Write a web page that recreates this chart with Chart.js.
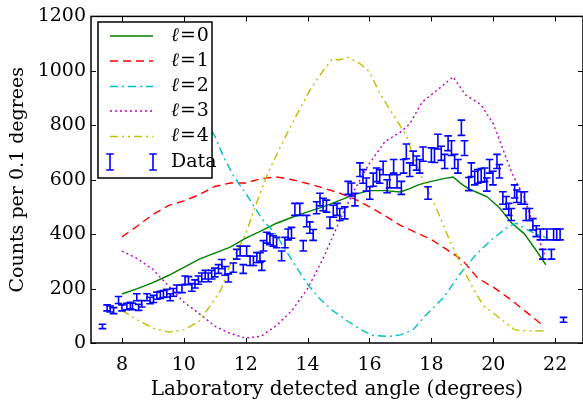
<!DOCTYPE html>
<html>
<head>
<meta charset="utf-8">
<script src="https://cdn.jsdelivr.net/npm/chart.js@4.4.1/dist/chart.umd.min.js"></script>
<style>
html, body { margin: 0; padding: 0; background: #fff; overflow: hidden; }
</style>
</head>
<body>
<canvas id="angleChart" width="583" height="402"></canvas>
<script>
// measured counts with their error bars
var dataX = [7.37,7.52,7.62,7.73,7.89,8.00,8.16,8.27,8.34,8.48,
  8.54,8.64,8.81,8.91,9.02,9.13,9.24,9.34,9.45,9.56,
  9.66,9.77,9.94,10.04,10.15,10.26,10.36,10.47,10.58,10.69,
  10.79,10.90,11.00,11.12,11.23,11.33,11.44,11.60,11.71,11.82,
  11.92,12.03,12.14,12.25,12.36,12.46,12.52,12.57,12.68,12.78,
  12.89,13.00,13.16,13.27,13.37,13.48,13.59,13.75,13.86,13.97,
  14.07,14.18,14.29,14.40,14.50,14.61,14.72,14.83,14.95,15.04,
  15.20,15.31,15.42,15.53,15.69,15.79,15.90,16.01,16.12,16.23,
  16.33,16.44,16.57,16.65,16.78,16.89,17.03,17.10,17.19,17.30,
  17.41,17.52,17.62,17.73,17.89,18.00,18.10,18.21,18.32,18.43,
  18.54,18.65,18.75,18.86,18.97,19.07,19.21,19.29,19.40,19.50,
  19.61,19.72,19.79,19.88,19.99,20.12,20.20,20.31,20.42,20.50,
  20.58,20.69,20.76,20.90,21.01,21.06,21.17,21.28,21.39,21.52,
  21.60,21.73,21.88,21.95,22.05,22.16,22.27];
var dataY = [61,129,125,119,158,129,134,138,134,168,
  131,144,168,156,162,174,177,180,183,168,
  186,199,199,231,229,204,217,231,241,251,
  241,251,259,272,290,265,239,277,326,338,
  272,338,302,302,314,314,284,357,387,381,
  375,369,320,369,399,405,491,491,357,448,
  424,397,497,527,509,503,442,484,491,472,
  478,570,564,527,637,612,582,551,600,618,
  612,643,576,594,649,594,570,649,704,637,
  679,661,649,694,551,691,689,740,697,667,
  734,716,667,649,791,716,584,637,606,612,
  616,618,582,649,606,667,631,533,515,491,
  472,557,539,533,533,472,472,436,411,399,
  326,399,326,399,399,399,85];
var dataErr = [8,11,11,11,13,11,12,12,12,13,
  11,12,13,12,13,13,13,13,14,13,
  14,14,14,15,15,14,15,15,16,16,
  16,16,16,16,17,16,15,17,18,18,
  16,18,17,17,18,18,17,19,20,20,
  19,19,18,19,20,20,22,22,19,21,
  21,20,22,23,23,22,21,22,22,22,
  22,24,24,23,25,25,24,23,24,25,
  25,25,24,24,25,24,24,25,27,25,
  26,26,25,26,23,26,26,27,26,26,
  27,27,26,25,28,27,24,25,25,25,
  25,25,24,25,25,26,25,23,23,22,
  22,24,23,23,23,22,22,21,20,20,
  18,20,18,20,20,20,9];

// model curves, one per l
var l0X = [8.0,8.5,9.0,9.5,10.0,10.5,11.0,11.5,12.0,12.5,13.0,13.5,14.0,14.5,15.0,15.5,16.0,16.5,17.0,17.3,17.6,18.0,18.4,18.7,19.0,19.2,19.5,19.8,20.2,20.6,21.0,21.4,21.7];
var l0Y = [180,200,222,248,278,308,330,352,385,412,440,462,482,500,522,545,560,560,555,567,582,594,604,610,582,567,552,537,497,440,402,338,287];
var l1X = [8.0,8.5,9.0,9.5,10.0,10.5,11.0,11.5,12.0,12.5,13.0,13.5,14.0,14.5,15.0,15.5,16.0,16.5,17.0,17.5,18.0,18.5,19.0,19.5,20.0,20.5,21.0,21.6];
var l1Y = [390,430,472,505,522,545,575,588,588,604,610,600,586,570,552,530,500,468,432,406,380,343,305,238,205,165,120,65];
var l2X = [8.0,8.5,9.0,9.5,10.0,10.5,11.0,11.3,11.6,12.0,12.5,13.0,13.3,13.6,14.0,14.4,14.8,15.3,15.7,16.1,16.6,17.0,17.4,17.8,18.4,18.9,19.45,20.0,20.5,20.75,21.06,21.4,21.7];
var l2Y = [1180,1150,1100,1030,950,860,760,680,615,550,460,395,340,285,215,162,120,80,50,28,24,30,48,100,168,250,326,385,428,440,418,400,387];
var l3X = [8.0,8.5,9.0,9.5,10.0,10.5,11.0,11.5,12.0,12.5,13.0,13.5,14.0,14.5,15.0,15.5,16.0,16.5,17.0,17.3,17.7,18.2,18.7,19.1,19.6,20.0,20.3,20.6,21.0,21.3,21.66];
var l3Y = [338,310,270,210,150,108,62,35,18,25,65,120,200,310,440,560,660,740,775,805,885,930,978,912,876,805,716,625,535,430,326];
var l4X = [8.0,8.5,9.0,9.5,10.0,10.5,10.9,11.2,11.5,12.0,12.3,12.7,13.2,13.7,14.1,14.5,14.8,15.0,15.3,15.7,16.0,16.3,16.7,17.2,17.4,17.7,18.2,18.6,19.0,19.45,19.7,20.0,20.3,20.7,21.0,21.66];
var l4Y = [120,85,55,40,48,80,145,195,290,400,500,620,740,850,934,1000,1044,1040,1050,1026,996,925,850,760,691,606,484,375,277,180,135,110,83,48,45,44];

var xTickValues = [8, 10, 12, 14, 16, 18, 20, 22];
var yTickValues = [0, 200, 400, 600, 800, 1000, 1200];
var seriesNames = ['0', '1', '2', '3', '4'];

var serif = 'DejaVu Serif';

function pairs(xs, ys) {
  var out = [];
  for (var i = 0; i < xs.length; i++) out.push({x: xs[i], y: ys[i]});
  return out;
}

var curveStyles = [
  {color: '#008000', dash: []},
  {color: '#ff0000', dash: [8, 5]},
  {color: '#00bfbf', dash: [8, 4, 2, 4]},
  {color: '#bf00bf', dash: [2, 3]},
  {color: '#bfbf00', dash: [8, 4, 2, 4, 2, 4]}
];
var curveX = [l0X, l1X, l2X, l3X, l4X];
var curveY = [l0Y, l1Y, l2Y, l3Y, l4Y];

var datasets = [];
for (var k = 0; k < 5; k++) {
  datasets.push({
    type: 'line',
    label: 'l=' + seriesNames[k],
    data: pairs(curveX[k], curveY[k]),
    borderColor: curveStyles[k].color,
    borderDash: curveStyles[k].dash,
    borderWidth: 1.4,
    pointRadius: 0,
    tension: 0,
    fill: false,
    order: 5 - k
  });
}
datasets.push({
  type: 'scatter',
  label: 'Data',
  data: pairs(dataX, dataY),
  pointRadius: 0,
  order: 0
});

function drawErrorBar(ctx, px, top, bot, half) {
  ctx.beginPath();
  ctx.moveTo(px, top); ctx.lineTo(px, bot);
  ctx.moveTo(px - half, top); ctx.lineTo(px + half, top);
  ctx.moveTo(px - half, bot); ctx.lineTo(px + half, bot);
  ctx.stroke();
}

var errorBars = {
  id: 'errorBars',
  afterDatasetsDraw: function(chart) {
    var ctx = chart.ctx, xs = chart.scales.x, ys = chart.scales.y, a = chart.chartArea;
    ctx.save();
    ctx.beginPath();
    ctx.rect(a.left, a.top, a.right - a.left, a.bottom - a.top);
    ctx.clip();
    ctx.strokeStyle = '#0000ff';
    ctx.lineWidth = 1.6;
    for (var i = 0; i < dataX.length; i++) {
      var px = xs.getPixelForValue(dataX[i]);
      drawErrorBar(ctx, px, ys.getPixelForValue(dataY[i] + dataErr[i]),
        ys.getPixelForValue(dataY[i] - dataErr[i]), 3.8);
    }
    ctx.restore();
  }
};

// box round the plot with inward ticks on all four sides
var frame = {
  id: 'frame',
  afterDraw: function(chart) {
    var ctx = chart.ctx, xs = chart.scales.x, ys = chart.scales.y, a = chart.chartArea;
    ctx.save();
    ctx.strokeStyle = '#000';
    ctx.lineWidth = 1;
    ctx.beginPath();
    xTickValues.forEach(function(v) {
      var px = Math.round(xs.getPixelForValue(v)) + 0.5;
      ctx.moveTo(px, a.bottom); ctx.lineTo(px, a.bottom - 5);
      ctx.moveTo(px, a.top); ctx.lineTo(px, a.top + 5);
    });
    yTickValues.forEach(function(v) {
      var py = Math.round(ys.getPixelForValue(v)) + 0.5;
      ctx.moveTo(a.left, py); ctx.lineTo(a.left + 5, py);
      ctx.moveTo(a.right, py); ctx.lineTo(a.right - 5, py);
    });
    ctx.stroke();
    ctx.lineWidth = 1.5;
    ctx.strokeRect(a.left, a.top, a.right - a.left, a.bottom - a.top);
    ctx.restore();
  }
};

var boxLegend = {
  id: 'boxLegend',
  afterDraw: function(chart) {
    var ctx = chart.ctx;
    var bx = 98, by = 22, bw = 114, bh = 156;
    var rows = [36, 61, 86.5, 111, 136.5, 162];
    ctx.save();
    ctx.fillStyle = '#fff';
    ctx.fillRect(bx, by, bw, bh);
    ctx.strokeStyle = '#000';
    ctx.lineWidth = 1.5;
    ctx.strokeRect(bx, by, bw, bh);
    ctx.textBaseline = 'middle';
    for (var k = 0; k < 5; k++) {
      var ds = chart.data.datasets[k];
      ctx.strokeStyle = ds.borderColor;
      ctx.lineWidth = 1.5;
      ctx.setLineDash(ds.borderDash);
      ctx.beginPath();
      ctx.moveTo(110, rows[k]); ctx.lineTo(153, rows[k]);
      ctx.stroke();
      ctx.setLineDash([]);
      ctx.fillStyle = '#000';
      var tx = 171;
      ctx.font = 'italic 19px "' + serif + '"';
      ctx.fillText('\u2113', tx, rows[k]);
      tx += ctx.measureText('\u2113').width + 1;
      ctx.font = '19px "' + serif + '"';
      ctx.fillText('=', tx, rows[k]);
      tx += ctx.measureText('=').width + 1;
      ctx.fillText(seriesNames[k], tx, rows[k]);
    }
    ctx.strokeStyle = '#0000ff';
    ctx.lineWidth = 1.6;
    drawErrorBar(ctx, 110, rows[5] - 8, rows[5] + 8, 3.8);
    drawErrorBar(ctx, 153, rows[5] - 8, rows[5] + 8, 3.8);
    ctx.fillStyle = '#000';
    ctx.font = '19px "' + serif + '"';
    ctx.fillText('Data', 171, rows[5]);
    ctx.restore();
  }
};

var ctx = document.getElementById('angleChart').getContext('2d');
var angleChart = new Chart(ctx, {
  data: {datasets: datasets},
  options: {
    responsive: false,
    animation: false,
    layout: {padding: {top: 14, right: 0, left: 0, bottom: 0}},
    plugins: {legend: {display: false}, tooltip: {enabled: false}},
    scales: {
      x: {
        type: 'linear',
        min: 7,
        max: 22.9,
        grid: {display: false, drawTicks: false},
        border: {display: false},
        afterBuildTicks: function(s) { s.ticks = xTickValues.map(function(v) { return {value: v}; }); },
        afterFit: function(s) { s.height = 59; },
        ticks: {padding: 11, color: '#000', autoSkip: false, maxRotation: 0, font: {family: serif, size: 19},
          callback: function(v) { return String(v); }},
        title: {display: true, text: 'Laboratory detected angle (degrees)', color: '#000',
          font: {family: serif, size: 20}, padding: {top: 0, bottom: 0}}
      },
      y: {
        type: 'linear',
        min: 0,
        max: 1200,
        grid: {display: false, drawTicks: false},
        border: {display: false},
        afterBuildTicks: function(s) { s.ticks = yTickValues.map(function(v) { return {value: v}; }); },
        afterFit: function(s) { s.width = 91; },
        ticks: {padding: 5, color: '#000', font: {family: serif, size: 19},
          callback: function(v) { return String(v); }},
        title: {display: true, text: 'Counts per 0.1 degrees', color: '#000',
          font: {family: serif, size: 19}, padding: {top: 7, bottom: 0}}
      }
    }
  },
  plugins: [errorBars, frame, boxLegend]
});
</script>
</body>
</html>
